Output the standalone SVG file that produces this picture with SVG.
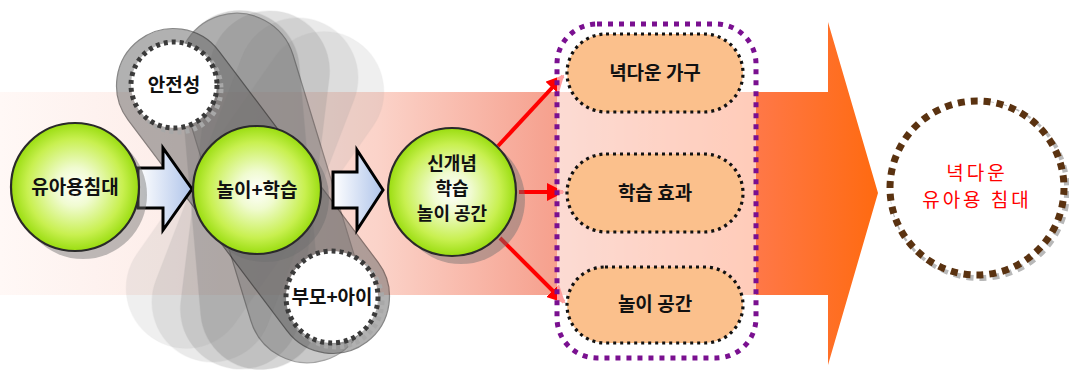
<svg xmlns="http://www.w3.org/2000/svg" width="1069" height="374" viewBox="0 0 1069 374">
<defs>
<linearGradient id="band" x1="0" y1="0" x2="878" y2="0" gradientUnits="userSpaceOnUse">
<stop offset="0" stop-color="#FFF8F6"/>
<stop offset="0.2" stop-color="#FDEDE9"/>
<stop offset="0.43" stop-color="#FBD3C9"/>
<stop offset="0.62" stop-color="#F6A391"/>
<stop offset="0.86" stop-color="#FF7848"/>
<stop offset="1" stop-color="#FF6A10"/>
</linearGradient>
<radialGradient id="green" cx="0.5" cy="0.5" r="0.5">
<stop offset="0" stop-color="#FFFFFF"/>
<stop offset="0.3" stop-color="#F0FBD0"/>
<stop offset="0.75" stop-color="#C8F050"/>
<stop offset="1" stop-color="#9ADD10"/>
</radialGradient>
<linearGradient id="blk" x1="0" y1="0" x2="1" y2="0">
<stop offset="0" stop-color="#FFFFFF"/>
<stop offset="1" stop-color="#AFC4EA"/>
</linearGradient>
<marker id="ah" viewBox="0 0 10 10" refX="9" refY="5" markerWidth="4.5" markerHeight="4.5" orient="auto" markerUnits="strokeWidth">
<path d="M0,0 L10,5 L0,10 Z" fill="#FF0000"/>
</marker>
<style>
.petal{stroke:#8a8a8a;stroke-opacity:0.35;stroke-width:1}
.gc{fill:url(#green);stroke:#2a2a2a;stroke-width:2.2}
.sh{fill:#6e6e6e;opacity:0.45}
.gt{font-family:"Noto Sans CJK KR","Noto Sans",sans-serif;font-weight:bold;font-size:19px;fill:#111;text-anchor:middle}
.ct{font-family:"Noto Sans CJK KR","Noto Sans",sans-serif;font-weight:bold;font-size:18px;fill:#111;text-anchor:middle}
.wc{fill:#FFFFFF;stroke:#3a3a3a;stroke-width:5;stroke-dasharray:4 4}
.wsh{fill:none;stroke:#a8a8a8;stroke-width:5;stroke-dasharray:4 4}
.pill{fill:#FBC08C;stroke:#111;stroke-width:3.2;stroke-dasharray:3 4}
.pt{font-family:"Noto Sans CJK KR","Noto Sans",sans-serif;font-weight:bold;font-size:19px;fill:#111;text-anchor:middle}
.red{stroke:#FF0000;stroke-width:4;fill:none;marker-end:url(#ah)}
</style>
</defs>
<rect width="1069" height="374" fill="#FFFFFF"/>
<g id="band-arrow">
<path d="M0,92 L828,92 L828,22 L878,193 L828,365 L828,295 L0,295 Z" fill="url(#band)"/>
</g>
<g id="petals">
<rect class="petal" x="-60" y="-180" width="120" height="360" rx="60" transform="translate(255,190) rotate(35)" fill="#a0a0a0" opacity="0.16"/>
<rect class="petal" x="-60" y="-180" width="120" height="360" rx="60" transform="translate(255,190) rotate(21)" fill="#9a9a9a" opacity="0.2"/>
<rect class="petal" x="-60" y="-180" width="120" height="360" rx="60" transform="translate(255,190) rotate(7)" fill="#8a8a8a" opacity="0.25"/>
<rect class="petal" x="-60" y="-180" width="120" height="360" rx="60" transform="translate(250,190) rotate(-5)" fill="#7a7a7a" opacity="0.3"/>
<rect x="-59" y="-180" width="118" height="360" rx="59" transform="translate(272,188) rotate(-17)" fill="#707070" opacity="0.38" stroke="#111" stroke-width="1.2"/>
<rect x="-57" y="-189" width="114" height="378" rx="57" transform="translate(253,191) rotate(-37)" fill="#666666" opacity="0.5" stroke="#111" stroke-width="1.2"/>
</g>
<g id="node-safety">
<circle class="wsh" cx="178" cy="89" r="43"/>
<circle class="wc" cx="174" cy="85" r="43"/>
<text class="gt" x="174" y="92">안전성</text>
</g>
<g id="node-parent">
<circle class="wsh" cx="336" cy="301" r="46"/>
<circle class="wc" cx="332" cy="297" r="46"/>
<text class="gt" x="332" y="304">부모+아이</text>
</g>
<g id="connectors">
<path d="M138,168 L163,168 L163,148 L192,189 L163,230 L163,208 L138,208 Z" fill="url(#blk)" stroke="#000" stroke-width="3" stroke-linejoin="miter"/>
<path d="M333,172 L357,172 L357,150 L383,190 L357,230 L357,208 L333,208 Z" fill="url(#blk)" stroke="#000" stroke-width="3" stroke-linejoin="miter"/>
<line class="red" x1="498" y1="146" x2="563" y2="76"/>
<line class="red" x1="519" y1="192" x2="563" y2="192"/>
<line class="red" x1="500" y1="238" x2="564" y2="302"/>
</g>
<g id="node-crib">
<circle class="sh" cx="83" cy="195" r="64"/>
<circle class="gc" cx="75" cy="187" r="64"/>
<text class="gt" x="75" y="194">유아용침대</text>
</g>
<g id="node-play">
<circle class="sh" cx="265" cy="198" r="64"/>
<circle class="gc" cx="257" cy="190" r="64"/>
<text class="gt" x="257" y="197">놀이+학습</text>
</g>
<g id="node-concept">
<circle class="sh" cx="461" cy="200" r="64"/>
<circle class="gc" cx="452" cy="192" r="64"/>
<text class="ct" x="452" y="170">신개념</text>
<text class="ct" x="452" y="195">학습</text>
<text class="ct" x="452" y="220">놀이 공간</text>
</g>
<g id="group-box">
<rect x="557" y="24" width="199" height="334" rx="40" fill="#FFFFFF" fill-opacity="0.62" stroke="#7A1090" stroke-width="5" stroke-dasharray="5 6"/>
</g>
<g id="node-furniture">
<rect class="pill" x="567" y="34" width="176" height="78" rx="39"/>
<text class="pt" x="655" y="80">녁다운 가구</text>
</g>
<g id="node-effect">
<rect class="pill" x="567" y="154" width="176" height="78" rx="39"/>
<text class="pt" x="655" y="200">학습 효과</text>
</g>
<g id="node-space">
<rect class="pill" x="567" y="267" width="176" height="76" rx="38"/>
<text class="pt" x="655" y="311">놀이 공간</text>
</g>
<g id="node-result">
<circle cx="980" cy="191" r="87" fill="none" stroke="#b8b8b8" stroke-width="6" stroke-dasharray="7 6"/>
<circle cx="977" cy="188" r="87" fill="#FFFFFF" stroke="#5A3210" stroke-width="7" stroke-dasharray="7 6"/>
<text x="977" y="180" font-family="'Noto Sans CJK KR','Noto Sans',sans-serif" font-size="19" fill="#FF0000" text-anchor="middle" letter-spacing="3">녁다운</text>
<text x="977" y="207" font-family="'Noto Sans CJK KR','Noto Sans',sans-serif" font-size="19" fill="#FF0000" text-anchor="middle" letter-spacing="3">유아용 침대</text>
</g>
</svg>
